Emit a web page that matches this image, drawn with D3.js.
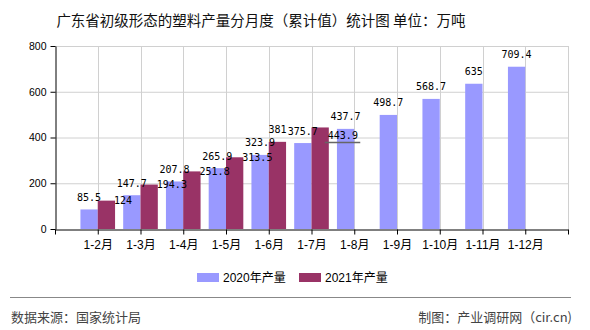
<!DOCTYPE html>
<html><head><meta charset="utf-8">
<script src="https://cdn.jsdelivr.net/npm/d3@7"></script>
<style>body{margin:0;background:#fff}svg{display:block}</style>
</head><body>
<svg id="c" width="590" height="330"></svg>
<script>
const categories = ["1-2月","1-3月","1-4月","1-5月","1-6月","1-7月","1-8月","1-9月","1-10月","1-11月","1-12月"];
const values2020 = [85.5,147.7,207.8,265.9,323.9,375.7,437.7,498.7,568.7,635,709.4];
const values2021 = [124,194.3,251.8,313.5,381,443.9];
const yTicks = [0,200,400,600,800];
const seriesNames = ["2020年产量","2021年产量"];
const labelPlace2021 = ["right","right","right","right","top","rightLow"];
const title = "广东省初级形态的塑料产量分月度（累计值）统计图 单位：万吨";
const sourceText = "数据来源：国家统计局";
const creditText = "制图：产业调研网（cir.cn)";

(function(){
const colors = ["#9999FF","#993366"];
const svg = d3.select("#c");
const pL = 55, pR = 568, pT = 46, pB = 229;
const x = d3.scaleLinear().domain([0, categories.length + 1]).range([pL, pR]);
const y = d3.scaleLinear().domain([0, 800]).range([pB, pT]);
const bw = (x(1) - x(0)) * 0.405;
const sans = "'Liberation Sans','Noto Sans CJK SC',sans-serif";
const mono = "'DejaVu Sans Mono','Liberation Mono',monospace";

svg.append("text").attr("x", 261).attr("y", 19).attr("text-anchor","middle")
  .attr("dominant-baseline","central").attr("font-family","'Noto Sans CJK SC',sans-serif")
  .attr("font-size", 14.5).attr("fill","#111").text(title);

const g = svg.append("g");
g.selectAll(".hg").data(yTicks.filter(d=>d>0)).join("line")
  .attr("x1", pL).attr("x2", pR).attr("y1", d=>y(d)+0.5).attr("y2", d=>y(d)+0.5)
  .attr("stroke","#d0d0d0").attr("stroke-width",1);
g.selectAll(".vg").data(d3.range(1, categories.length + 2)).join("line")
  .attr("x1", d=>Math.round(x(d))+0.5).attr("x2", d=>Math.round(x(d))+0.5)
  .attr("y1", pT).attr("y2", pB)
  .attr("stroke","#d0d0d0").attr("stroke-width",1);

g.selectAll(".b20").data(values2020).join("rect")
  .attr("x", (d,i)=>x(i+1)-bw).attr("width", bw)
  .attr("y", d=>y(d)).attr("height", d=>pB - y(d)).attr("fill", colors[0]);
g.selectAll(".b21").data(values2021).join("rect")
  .attr("x", (d,i)=>x(i+1)).attr("width", bw)
  .attr("y", d=>y(d)).attr("height", d=>pB - y(d)).attr("fill", colors[1]);

const ya = svg.append("g").attr("transform", `translate(${pL+0.5},0)`)
  .call(d3.axisLeft(y).tickValues(yTicks).tickSize(5).tickPadding(4).tickSizeOuter(0));
ya.select(".domain").attr("stroke","#000");
ya.selectAll("text").attr("font-family", sans).attr("font-size", 10.5).attr("fill","#000");
const xa = svg.append("g").attr("transform", `translate(0,${pB+0.5})`)
  .call(d3.axisBottom(x).tickValues(d3.range(0, categories.length + 2)).tickSize(5).tickSizeOuter(0)
    .tickFormat(d => categories[d-1] || ""));
xa.select(".domain").attr("stroke","#000");
xa.selectAll("text").attr("font-family", sans).attr("font-size", 12).attr("fill","#000").attr("dy","0.95em");

g.selectAll(".l20").data(values2020).join("text")
  .attr("x",(d,i)=>x(i+1)-bw/2).attr("y", d=>y(d)-8.5).attr("text-anchor","middle")
  .attr("font-family", mono).attr("font-size", 10).attr("fill","#000").text(d=>d);
g.selectAll(".l21").data(values2021).join("text")
  .attr("x",(d,i)=> labelPlace2021[i]==="top" ? x(i+1)+bw/2 : x(i+1)+bw-1)
  .attr("y",(d,i)=> labelPlace2021[i]==="top" ? y(d)-9 : (labelPlace2021[i]==="rightLow" ? y(d)+8.5 : y(d)))
  .attr("text-anchor",(d,i)=> labelPlace2021[i]==="top" ? "middle" : "start")
  .attr("dominant-baseline",(d,i)=> labelPlace2021[i]==="top" ? "auto" : "central")
  .attr("font-family", mono).attr("font-size", 10).attr("fill","#000").text(d=>d);
svg.append("line").attr("x1", x(6)+bw-4).attr("x2", x(7)+6).attr("y1", y(values2021[5])+15).attr("y2", y(values2021[5])+15)
  .attr("stroke","#666").attr("stroke-width",1.5);

const lg = svg.append("g");
const lx = [197, 299];
seriesNames.forEach((n,i)=>{
  lg.append("rect").attr("x", lx[i]).attr("y", 273).attr("width", 22).attr("height", 9).attr("fill", colors[i]);
  lg.append("text").attr("x", lx[i]+26).attr("y", 278).attr("dominant-baseline","central")
    .attr("font-family", sans).attr("font-size", 12).attr("fill","#000").text(n);
});

svg.append("line").attr("x1", 10).attr("x2", 571).attr("y1", 297.5).attr("y2", 297.5).attr("stroke","#888").attr("stroke-width",1);
svg.append("text").attr("x", 11).attr("y", 316).attr("dominant-baseline","central")
  .attr("font-family","'Noto Sans CJK SC',sans-serif").attr("font-size", 13).attr("fill","#444").text(sourceText);
svg.append("text").attr("x", 572).attr("y", 316).attr("dominant-baseline","central").attr("text-anchor","end")
  .attr("font-family","'Noto Sans CJK SC',sans-serif").attr("font-size", 13).attr("fill","#444").text(creditText);
})();
</script>
</body></html>
